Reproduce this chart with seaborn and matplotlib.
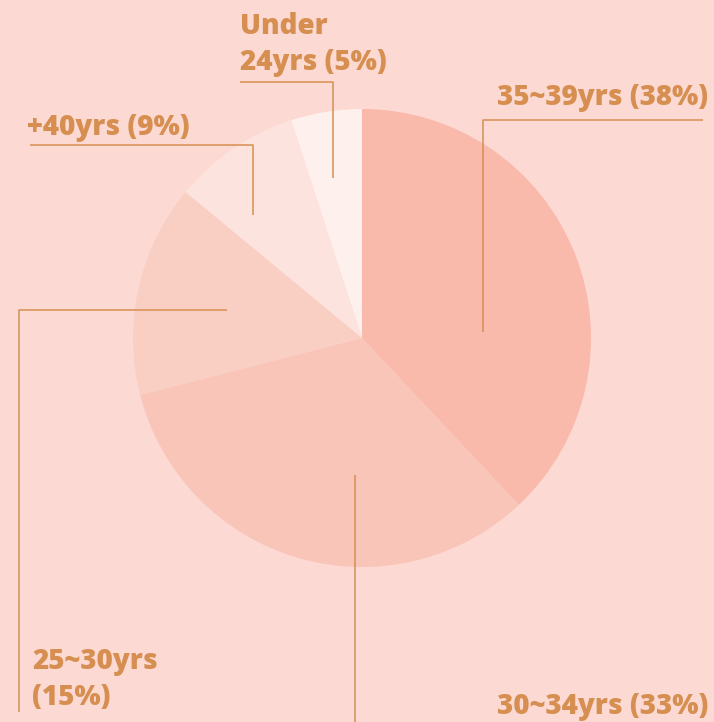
import matplotlib
matplotlib.use("Agg")
import matplotlib.pyplot as plt
import seaborn as sns

# slice data (clockwise from 12 o'clock)
groups = ["35~39yrs", "30~34yrs", "25~30yrs", "+40yrs", "Under 24yrs"]
shares = [38, 33, 15, 9, 5]
slice_colors = ["#F9B9AB", "#F9C5B8", "#F9CFC4", "#FDE3DD", "#FEF0ED"]

# label text as drawn
label_texts = ["35~39yrs (38%)", "30~34yrs (33%)", "25~30yrs\n(15%)", "+40yrs (9%)", "Under\n24yrs (5%)"]

bg = "#FCD9D2"
ink = "#D68F51"

sns.set_theme(style="white", rc={"figure.facecolor": bg, "axes.facecolor": bg})
plt.rcParams["font.family"] = ["Open Sans", "DejaVu Sans"]

W, H = 714, 722
fig = plt.figure(figsize=(W / 100, H / 100), dpi=100)
ax = fig.add_axes([0, 0, 1, 1])
ax.set_aspect("equal")
ax.axis("off")

def fy(y):
    # flip from image rows to axis coords
    return H - y

ax.pie(shares, colors=slice_colors, startangle=90, counterclock=False,
       center=(362, fy(338)), radius=229, wedgeprops=dict(linewidth=0))
ax.set_xlim(0, W)
ax.set_ylim(0, H)

# leader lines (image coords)
leaders = [
    [(703, 120), (483, 120), (483, 332)],
    [(355, 722), (355, 475)],
    [(19, 712), (19, 310), (227, 310)],
    [(30, 145), (253, 145), (253, 215)],
    [(240, 82), (333, 82), (333, 178)],
]
for pts in leaders:
    ax.plot([p[0] for p in pts], [fy(p[1]) for p in pts], color=ink, lw=1.1,
            solid_capstyle="butt")

# label anchors (left x, baseline of last line)
anchors = [(497, 105), (497, 714), (32, 705), (27, 135), (240, 70)]
for txt, (x, y) in zip(label_texts, anchors):
    ax.text(x, fy(y), txt, color=ink, fontsize=20, fontweight=800,
            ha="left", va="baseline", linespacing=1.3)

fig.savefig("out.png", dpi=100, facecolor=bg)
